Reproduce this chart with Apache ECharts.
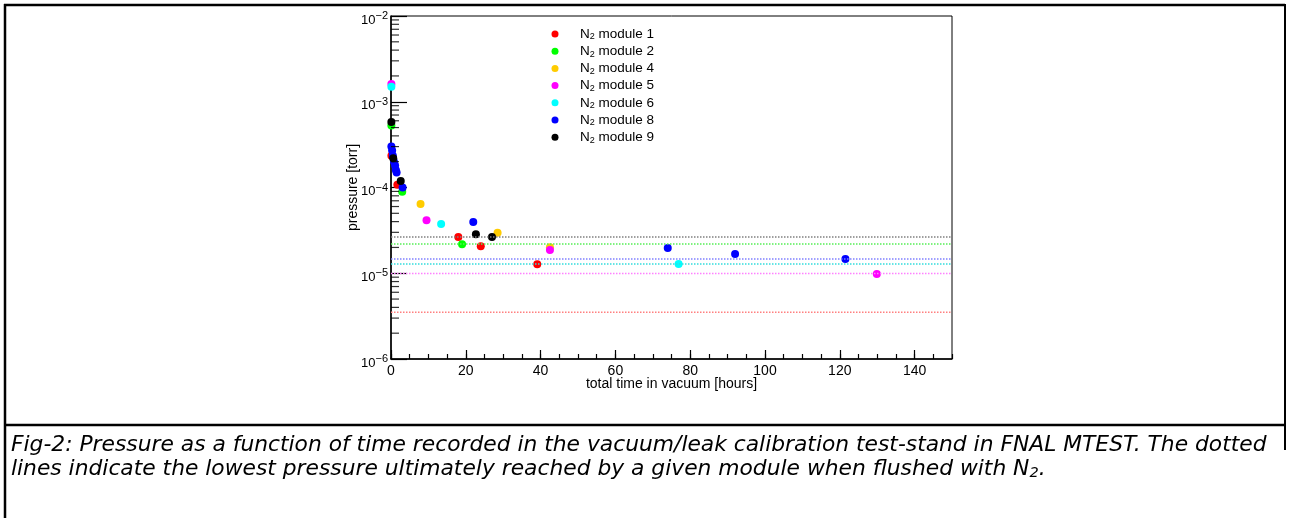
<!DOCTYPE html>
<html>
<head>
<meta charset="utf-8">
<title>Pressure vs time in vacuum</title>
<script src="https://cdn.jsdelivr.net/npm/echarts@6/dist/echarts.min.js"></script>
<style>
  html, body { margin: 0; padding: 0; background: #fff; }
  #chart { width: 1289px; height: 518px; }
</style>
</head>
<body>
<div id="chart"></div>
<script>
// module labels and marker colours (ROOT palette)
const moduleIds = ['1', '2', '4', '5', '6', '8', '9'];
const moduleColors = ['#ff0000', '#00ff00', '#ffcc00', '#ff00ff', '#00ffff', '#0000ff', '#000000'];

// [hours, torr]
const module1 = [[0.1, 2.35e-4], [1.7, 1.08e-4], [18.0, 2.65e-5], [24.0, 2.06e-5], [39.1, 1.27e-5]];
const module2 = [[0.1, 5.3e-4], [3.0, 8.9e-5], [19.0, 2.18e-5]];
const module4 = [[7.9, 6.4e-5], [28.5, 2.97e-5], [42.5, 2.01e-5]];
const module5 = [[0.1, 1.61e-3], [9.5, 4.14e-5], [42.5, 1.87e-5], [129.9, 9.8e-6]];
const module6 = [[0.1, 1.5e-3], [13.4, 3.75e-5], [76.9, 1.28e-5]];
const module8 = [[0.1, 3.0e-4], [0.3, 2.7e-4], [0.5, 2.35e-4], [0.8, 2.0e-4], [1.1, 1.8e-4], [1.3, 1.6e-4],
  [1.5, 1.5e-4], [3.1, 1.0e-4], [22.0, 3.96e-5], [74.0, 1.97e-5], [92.0, 1.68e-5], [121.5, 1.47e-5]];
const module9 = [[0.1, 5.8e-4], [0.6, 2.2e-4], [2.6, 1.19e-4], [22.7, 2.85e-5], [27.0, 2.65e-5]];
const moduleData = [module1, module2, module4, module5, module6, module8, module9];

// lowest pressure reached when flushed with N2 (dotted lines), null = no line
const floorLevels = [3.5e-6, 2.2e-5, null, 9.9e-6, 1.28e-5, 1.47e-5, 2.65e-5];
const floorColors = ['#ff8080', '#55ee55', null, '#ff80ff', '#33dddd', '#8080ff', '#808080'];
const timeRange = [0, 150];

// log-axis minor tick values (2..9 x each decade)
const decades = [1e-6, 1e-5, 1e-4, 1e-3];
const minorSteps = [2, 3, 4, 5, 6, 7, 8, 9];
const minorTicks = [];
decades.forEach((d) => minorSteps.forEach((m) => minorTicks.push([0, d * m])));

const captionLine1 = 'Fig-2: Pressure as a function of time recorded in the vacuum/leak calibration test-stand in FNAL MTEST. The dotted';
const captionLine2 = 'lines indicate the lowest pressure ultimately reached by a given module when flushed with N{sub|2}.';

const font = 'Liberation Sans';
const captionFont = 'DejaVu Sans';

const series = [];
moduleData.forEach((data, i) => {
  series.push({
    name: 'N2 module ' + moduleIds[i],
    type: 'scatter',
    data: data,
    symbol: 'circle',
    symbolSize: 8,
    itemStyle: { color: moduleColors[i], opacity: 1 },
    z: 3 + i
  });
});
// dotted floor lines, drawn over the points
floorLevels.forEach((v, i) => {
  if (v == null) return;
  series.push({
    name: 'floor ' + moduleIds[i],
    type: 'line',
    data: timeRange.map((t) => [t, v]),
    symbol: 'none',
    silent: true,
    lineStyle: { color: floorColors[i], type: [1.5, 1.5], width: 1.5 },
    z: 20
  });
});

// minor ticks on the log axis
series.push({
  type: 'scatter',
  name: 'minor',
  data: minorTicks,
  symbol: 'rect',
  symbolSize: [8, 1.2],
  symbolOffset: [4, 0],
  itemStyle: { color: '#000' },
  silent: true,
  clip: false,
  z: 30
});

const chart = echarts.init(document.getElementById('chart'));
chart.setOption({
  animation: false,
  backgroundColor: '#fff',
  textStyle: { fontFamily: font },
  grid: { left: 391, top: 16, width: 561, height: 343, show: true, borderColor: '#000', borderWidth: 1 },
  legend: {
    data: moduleIds.map((id) => 'N2 module ' + id),
    orient: 'vertical',
    left: 546.5,
    top: 21.5,
    icon: 'circle',
    itemWidth: 40,
    itemHeight: 7,
    itemGap: 2.2,
    formatter: (name) => 'N{sub|2}' + name.slice(2),
    textStyle: {
      fontFamily: font, fontSize: 13.5, color: '#000', lineHeight: 15,
      rich: { sub: { fontFamily: font, fontSize: 9, lineHeight: 9, verticalAlign: 'bottom', color: '#000' } }
    }
  },
  xAxis: [
    {
      type: 'value', min: 0, max: 150, interval: 20,
      position: 'bottom',
      name: 'total time in vacuum [hours]',
      nameLocation: 'middle',
      nameGap: 18,
      nameMoveOverlap: false,
      nameTextStyle: { fontFamily: font, fontSize: 14, color: '#000' },
      axisLine: { lineStyle: { color: '#000', width: 1.5 } },
      axisTick: { inside: true, length: 9, lineStyle: { color: '#000', width: 1.2 } },
      axisLabel: { fontFamily: font, fontSize: 14, color: '#000', margin: 5, showMaxLabel: false },
      splitLine: { show: false }
    },
    {
      type: 'value', min: 0, max: 150, interval: 5,
      position: 'bottom',
      axisLine: { show: false },
      axisTick: { inside: true, length: 5, lineStyle: { color: '#000', width: 1.2 } },
      axisLabel: { show: false },
      splitLine: { show: false }
    }
  ],
  yAxis: {
    type: 'log', logBase: 10, min: 1e-6, max: 1e-2,
    name: 'pressure [torr]',
    nameLocation: 'middle',
    nameGap: 31,
    nameMoveOverlap: false,
    nameTextStyle: { fontFamily: font, fontSize: 14, color: '#000' },
    axisLine: { show: true, lineStyle: { color: '#000', width: 1.5 } },
    axisTick: { inside: true, length: 16, lineStyle: { color: '#000', width: 1.2 } },
    axisLabel: {
      margin: 3,
      formatter: (v) => '{b|10}{s|\u2212' + Math.round(-Math.log10(v)) + '}',
      rich: {
        b: { fontFamily: font, fontSize: 13, color: '#000', lineHeight: 13, padding: [8, 0, 0, 0] },
        s: { fontFamily: font, fontSize: 11, color: '#000', lineHeight: 14, padding: [1.5, 0, 0, 0], verticalAlign: 'top' }
      }
    },
    splitLine: { show: false }
  },
  series: series,
  graphic: [
    { type: 'line', shape: { x1: 4, y1: 5, x2: 1285, y2: 5 }, style: { stroke: '#000', lineWidth: 2.5 } },
    { type: 'line', shape: { x1: 5, y1: 4, x2: 5, y2: 518 }, style: { stroke: '#000', lineWidth: 2.5 } },
    { type: 'line', shape: { x1: 1285, y1: 4, x2: 1285, y2: 450 }, style: { stroke: '#000', lineWidth: 2 } },
    { type: 'line', shape: { x1: 4, y1: 425, x2: 1286, y2: 425 }, style: { stroke: '#000', lineWidth: 2.5 } },
    {
      type: 'text', left: 11, top: 434.5,
      style: { text: captionLine1, fill: '#000', fontFamily: captionFont, fontStyle: 'italic', fontSize: 21.8 }
    },
    {
      type: 'text', left: 11, top: 458.5,
      style: {
        text: captionLine2,
        fill: '#000', fontFamily: captionFont, fontStyle: 'italic', fontSize: 21.8,
        rich: { sub: { fontFamily: captionFont, fontStyle: 'italic', fontSize: 14.5, verticalAlign: 'bottom', lineHeight: 14, fill: '#000' } }
      }
    }
  ]
});
</script>
</body>
</html>
